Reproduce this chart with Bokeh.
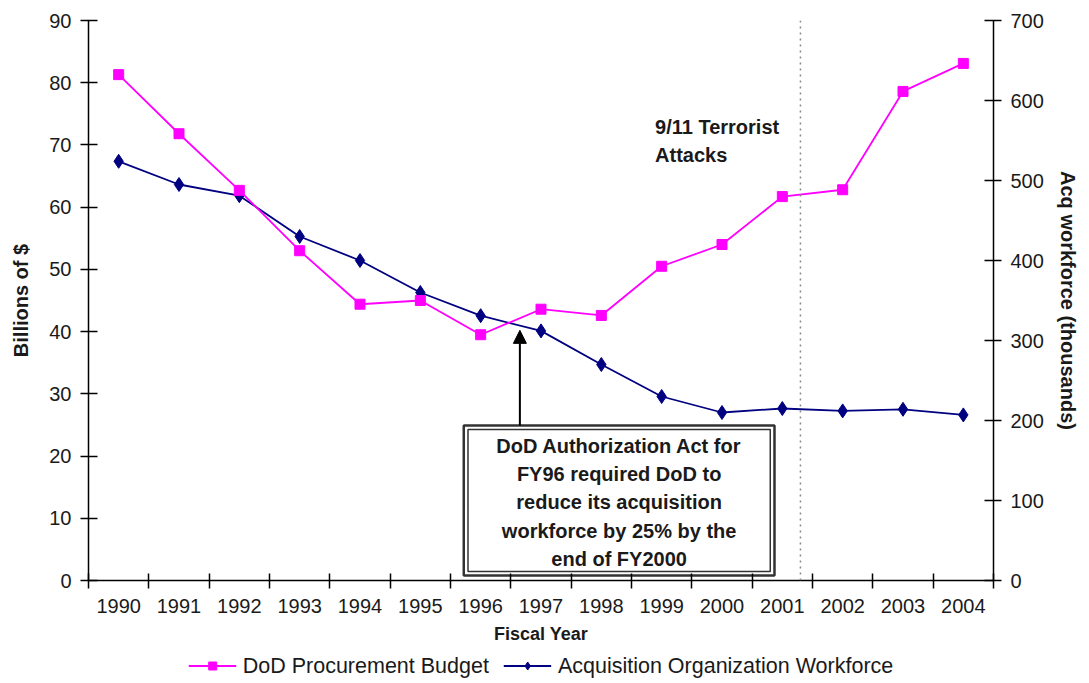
from bokeh.plotting import figure
from bokeh.layouts import column
from bokeh.models import (Range1d, LinearAxis, FixedTicker, Legend, LegendItem,
                          Span, Label, Arrow, NormalHead)
from bokeh.embed import file_html
from bokeh.resources import INLINE

# ---- data ----
years = [1990, 1991, 1992, 1993, 1994, 1995, 1996, 1997, 1998, 1999, 2000, 2001, 2002, 2003, 2004]
tick_labels = [str(y) for y in years]
budget = [81.3, 71.8, 62.7, 53.0, 44.4, 45.0, 39.5, 43.6, 42.6, 50.5, 54.0, 61.7, 62.8, 78.6, 83.1]
workforce = [524, 495, 481, 430, 400, 360, 331, 312, 270, 230, 210, 215, 212, 214, 207]
left_ticks = [0, 10, 20, 30, 40, 50, 60, 70, 80, 90]
right_ticks = [0, 100, 200, 300, 400, 500, 600, 700]
budget_name = "DoD Procurement Budget"
workforce_name = "Acquisition Organization Workforce"
note_text = "DoD Authorization Act for\nFY96 required DoD to\nreduce its acquisition\nworkforce by 25% by the\nend of FY2000"
event_text = "9/11 Terrorist\nAttacks"
event_x = 2001.3

FONT = "Liberation Sans"
PINK = "#FF00FF"
NAVY = "#000080"
TXT = "#1a1a1a"
W = 1081

p = figure(width=W, height=648, output_backend="svg", toolbar_location=None,
           x_range=Range1d(years[0] - 0.5, years[-1] + 0.5), y_range=Range1d(0, 90),
           min_border_left=88, min_border_right=84, min_border_top=20, min_border_bottom=68)
p.extra_y_ranges = {"right": Range1d(0, 700)}
p.grid.visible = False
p.outline_line_color = None
p.background_fill_color = "white"

# x axis
xa = p.xaxis[0]
xa.ticker = FixedTicker(ticks=years, minor_ticks=[y - 0.5 for y in years] + [years[-1] + 0.5])
xa.major_label_overrides = {y: l for y, l in zip(years, tick_labels)}
xa.major_tick_line_color = None
xa.major_tick_in = 0
xa.major_tick_out = 8
xa.minor_tick_in = 7
xa.minor_tick_out = 8
xa.minor_tick_line_color = "black"
xa.minor_tick_line_width = 1.5
xa.axis_line_color = "black"
xa.axis_line_width = 1.5
xa.major_label_standoff = 10
xa.major_label_text_font = FONT
xa.major_label_text_font_size = "20px"
xa.major_label_text_color = TXT
xa.axis_label = "Fiscal Year"
xa.axis_label_text_font = FONT
xa.axis_label_text_font_style = "bold"
xa.axis_label_text_font_size = "18px"
xa.axis_label_text_color = TXT
xa.axis_label_standoff = 8

def style_y(ax):
    ax.axis_line_color = "black"
    ax.axis_line_width = 1.5
    ax.major_tick_line_color = "black"
    ax.major_tick_line_width = 1.5
    ax.major_tick_in = 9
    ax.major_tick_out = 8
    ax.minor_tick_line_color = None
    ax.major_label_text_font = FONT
    ax.major_label_text_font_size = "20px"
    ax.major_label_text_color = TXT
    ax.major_label_standoff = 9
    ax.axis_label_text_font = FONT
    ax.axis_label_text_font_style = "bold"
    ax.axis_label_text_font_size = "20px"
    ax.axis_label_text_color = TXT

ya = p.yaxis[0]
ya.ticker = FixedTicker(ticks=left_ticks)
ya.axis_label = "Billions of $"
style_y(ya)
ya.axis_label_standoff = 14

ra = LinearAxis(y_range_name="right", ticker=FixedTicker(ticks=right_ticks),
                axis_label="Acq workforce (thousands)")
style_y(ra)
ra.axis_label_standoff = 10
p.add_layout(ra, "right")

# 9/11 dotted line
p.add_layout(Span(location=event_x, dimension="height", line_color="#888888",
                  line_dash="dotted", line_width=1.5))

# series
p.line(years, workforce, y_range_name="right", line_color=NAVY, line_width=1.8)
p.scatter(years, workforce, y_range_name="right", marker="diamond", size=14,
          fill_color=NAVY, line_color=NAVY)
p.line(years, budget, line_color=PINK, line_width=1.8)
p.scatter(years, budget, marker="square", size=10, fill_color=PINK, line_color=PINK)

# annotation box (double border)
bx0, bx1, by0, by1 = 1995.72, 2000.87, 0.8, 24.9
dx, dy = 0.07, 0.65
p.quad(left=[bx0], right=[bx1], bottom=[by0], top=[by1], fill_color="white",
       line_color="#333333", line_width=2.5)
p.quad(left=[bx0 + dx], right=[bx1 - dx], bottom=[by0 + dy], top=[by1 - dy],
       fill_alpha=0, line_color="#333333", line_width=1.5)
p.add_layout(Label(x=(bx0 + bx1) / 2, y=(by0 + by1) / 2 - 0.3, text=note_text,
                   text_align="center", text_baseline="middle", text_font=FONT,
                   text_font_style="bold", text_font_size="20px", text_color=TXT,
                   text_line_height=1.28))

# arrow
p.add_layout(Arrow(end=NormalHead(size=13, fill_color="black", line_color="black"),
                   x_start=1996.65, y_start=by1, x_end=1996.65, y_end=40.2,
                   line_color="black", line_width=2))

# 9/11 label
p.add_layout(Label(x=1998.89, y=70.7, text=event_text, text_align="left",
                   text_baseline="middle", text_font=FONT, text_font_style="bold",
                   text_font_size="20px", text_color=TXT, text_line_height=1.28))

# ---- legend strip (proxy glyphs lie outside the strip's visible range) ----
lg = figure(width=W, height=35, output_backend="svg", toolbar_location=None,
            x_range=Range1d(0, 1), y_range=Range1d(0, 1), x_axis_type=None, y_axis_type=None,
            min_border_left=0, min_border_right=0, min_border_top=0, min_border_bottom=0)
lg.grid.visible = False
lg.outline_line_color = None
hidden = [-5, -4]
bl = lg.line(hidden, hidden, line_color=PINK, line_width=1.8)
bm = lg.scatter(hidden, hidden, marker="square", size=8, fill_color=PINK, line_color=PINK)
wl = lg.line(hidden, hidden, line_color=NAVY, line_width=1.8)
wm = lg.scatter(hidden, hidden, marker="diamond", size=11, fill_color=NAVY, line_color=NAVY)
legend = Legend(items=[LegendItem(label=budget_name, renderers=[bl, bm]),
                       LegendItem(label=workforce_name, renderers=[wl, wm])],
                location="center", orientation="horizontal", padding=0, margin=0,
                spacing=14, label_standoff=7, glyph_width=48, glyph_height=20,
                label_height=20, border_line_color=None, background_fill_alpha=0,
                label_text_font=FONT, label_text_font_size="21.5px", label_text_color=TXT)
lg.add_layout(legend, "center")

page = column(p, lg, spacing=0)
open("out.html", "w").write(file_html(page, INLINE))
